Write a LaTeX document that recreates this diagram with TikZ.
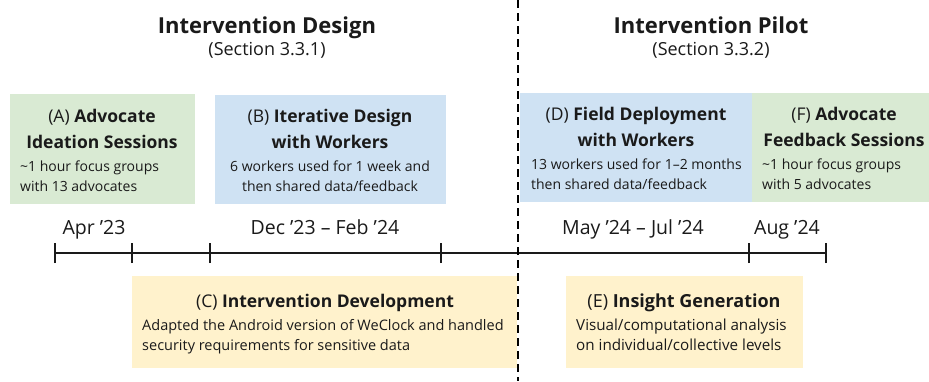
\documentclass[tikz,border=0pt]{standalone}
\usepackage{fontspec}
\setmainfont{Open Sans}
\definecolor{boxgreen}{HTML}{D9EAD3}
\definecolor{boxblue}{HTML}{CFE2F3}
\definecolor{boxyellow}{HTML}{FFF2CC}
\definecolor{ink}{HTML}{1A1A1A}
\begin{document}
\begin{tikzpicture}[x=1pt,y=-1pt,
  phase/.style={font=\fontsize{22}{25}\selectfont\bfseries, anchor=base, text=ink, inner sep=0pt},
  sect/.style={font=\fontsize{18}{21}\selectfont, anchor=base, text=ink, inner sep=0pt},
  card/.style={draw=none, inner sep=0pt, outer sep=0pt, anchor=north west},
  cardtitle/.style={font=\fontsize{17.5}{20}\selectfont, anchor=base, text=ink, inner sep=0pt},
  cardbody/.style={font=\fontsize{14}{16}\selectfont, anchor=base, text=ink, inner sep=0pt},
  widebody/.style={font=\fontsize{15.2}{17}\selectfont, anchor=base west, text=ink, inner sep=0pt},
  datelbl/.style={font=\fontsize{19.5}{22}\selectfont, anchor=base, text=ink, inner sep=0pt},
  axis/.style={line width=1.8pt, draw=ink},
  tickmark/.style={line width=1.1pt, draw=ink},
  divider/.style={line width=1.8pt, draw=black, dash pattern=on 8pt off 5pt}
]
% canvas
\fill[white] (0,0) rectangle (929,381);
\useasboundingbox (0,0) rectangle (929,381);

% cards
\node[card, fill=boxgreen,  minimum width=185pt, minimum height=110pt] (A) at (10,94) {};
\node[card, fill=boxblue,   minimum width=231pt, minimum height=109pt] (B) at (215,95) {};
\node[card, fill=boxblue,   minimum width=232pt, minimum height=109pt] (D) at (520,93) {};
\node[card, fill=boxgreen,  minimum width=177pt, minimum height=109pt] (F) at (752,93) {};
\node[card, fill=boxyellow, minimum width=385pt, minimum height=92pt] (C) at (132,276) {};
\node[card, fill=boxyellow, minimum width=237pt, minimum height=92pt] (E) at (566,276) {};

% phase headings
\node[phase] (hdes) at (267,33) {Intervention Design};
\node[sect]  (sdes) at (267,55) {(Section 3.3.1)};
\node[phase] (hpil) at (711,33) {Intervention Pilot};
\node[sect]  (spil) at (711,55) {(Section 3.3.2)};

% card A
\node[cardtitle] (Ta1) at (102,122) {(A) \textbf{Advocate}};
\node[cardtitle] (Ta2) at (102,148) {\textbf{Ideation Sessions}};
\node[cardbody, anchor=base west] (Ba1) at (20,171) {\textasciitilde 1 hour focus groups};
\node[cardbody, anchor=base west] (Ba2) at (20,191) {with 13 advocates};

% card B
\node[cardtitle] (Tb1) at (330,122) {(B) \textbf{Iterative Design}};
\node[cardtitle] (Tb2) at (330,148) {\textbf{with Workers}};
\node[cardbody] (Bb1) at (330,171) {6 workers used for 1 week and};
\node[cardbody] (Bb2) at (330,191) {then shared data/feedback};

% card D
\node[cardtitle] (Td1) at (636,120) {(D) \textbf{Field Deployment}};
\node[cardtitle] (Td2) at (636,146) {\textbf{with Workers}};
\node[cardbody, anchor=base west] (Bd1) at (531,169) {13 workers used for 1–2 months};
\node[cardbody, anchor=base west] (Bd2) at (531,189) {then shared data/feedback};

% card F
\node[cardtitle] (Tf1) at (844,120) {(F) \textbf{Advocate}};
\node[cardtitle] (Tf2) at (844,146) {\textbf{Feedback Sessions}};
\node[cardbody, anchor=base west] (Bf1) at (762,169) {\textasciitilde 1 hour focus groups};
\node[cardbody, anchor=base west] (Bf2) at (762,189) {with 5 advocates};

% card C
\node[cardtitle] (Tc) at (325,307) {(C) \textbf{Intervention Development}};
\node[widebody, font=\fontsize{14.5}{17}\selectfont] (Bc1) at (142,330) {Adapted the Android version of WeClock and handled};
\node[widebody, font=\fontsize{14.5}{17}\selectfont] (Bc2) at (142,350) {security requirements for sensitive data};

% card E
\node[cardtitle, font=\fontsize{18}{20}\selectfont] (Te) at (684,307) {(E) \textbf{Insight Generation}};
\node[widebody] (Be1) at (576,330) {Visual/computational analysis};
\node[widebody] (Be2) at (576,350) {on individual/collective levels};

% date labels
\node[datelbl] (d1) at (94,234) {Apr ’23};
\node[datelbl] (d2) at (325,234) {Dec ’23 – Feb ’24};
\node[datelbl] (d3) at (633,234) {May ’24 – Jul ’24};
\node[datelbl] (d4) at (787,234) {Aug ’24};

% timeline
\coordinate (t0) at (55,253);
\coordinate (t1) at (132,253);
\coordinate (t2) at (210,253);
\coordinate (t3) at (441,253);
\coordinate (t4) at (749,253);
\coordinate (t5) at (826,253);
\draw[axis] (t0) -- (t5);
\foreach \t in {t0,t1,t2,t3,t4,t5}
  \draw[tickmark] ([yshift=-10pt]\t) -- ([yshift=10pt]\t);

% phase divider
\coordinate (vtop) at (518,0);
\coordinate (vbot) at (518,381);
\draw[divider] (vtop) -- (vbot);
\end{tikzpicture}
\end{document}
